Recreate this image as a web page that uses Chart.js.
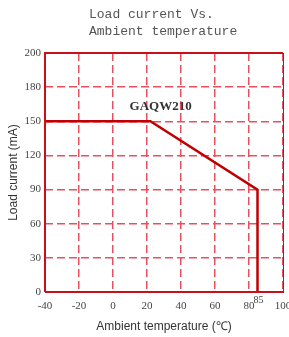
<!DOCTYPE html>
<html>
<head>
<meta charset="utf-8">
<script src="https://cdn.jsdelivr.net/npm/chart.js@4.4.0/dist/chart.umd.min.js"></script>
<style>
  html, body { margin: 0; padding: 0; background: #fff; }
  #wrap { width: 289px; height: 337px; }
</style>
</head>
<body>
<div id="wrap"><canvas id="deratingChart" width="289" height="337"></canvas></div>
<script>
// derating curve (temperature in C, current in mA)
const tempPoints = [-40, 22, 85, 85];
const currentPoints = [150, 150, 90, 0];

const titleLines = ['Load current Vs.', 'Ambient temperature'];
const partName = 'GAQW210';
const partLabelAt = { x: 28, y: 163 };
const extraXTicks = [85];

// y labels are evenly spaced, the last step (180 -> 200) takes a full slot
const yTickValues = [0, 30, 60, 90, 120, 150, 180, 210];
const yTickLabels = ['0', '30', '60', '90', '120', '150', '180', '200'];

const red = '#c8101a';
const gridRed = '#e8505f';

//Frame, title and annotations
const extrasPlugin = {
    id: 'extras',
    afterDraw(chart) {
        const c = chart.ctx;
        const a = chart.chartArea;
        const xs = chart.scales.x;
        const ys = chart.scales.y;
        c.save();
        // frame
        c.strokeStyle = red;
        c.lineWidth = 2;
        c.beginPath();
        c.moveTo(a.left, a.bottom);
        c.lineTo(a.left, a.top);
        c.lineTo(a.right, a.top);
        c.stroke();
        c.lineWidth = 1;
        c.beginPath();
        c.moveTo(a.right + 0.5, a.top);
        c.lineTo(a.right + 0.5, a.bottom);
        c.stroke();
        c.lineWidth = 2;
        c.beginPath();
        c.moveTo(a.left, a.bottom);
        c.lineTo(a.right + 1, a.bottom);
        c.stroke();

        // title
        c.fillStyle = '#555';
        c.font = '13px "Liberation Mono", monospace';
        c.textAlign = 'left';
        c.textBaseline = 'middle';
        titleLines.forEach((t, i) => c.fillText(t, 89, 15 + i * 17));

        // part name
        c.fillStyle = '#333';
        c.font = 'bold 13px "Liberation Serif", serif';
        c.textAlign = 'center';
        c.fillText(partName, xs.getPixelForValue(partLabelAt.x), ys.getPixelForValue(partLabelAt.y));

        // small 85 label
        c.fillStyle = '#444';
        c.font = '10px "Liberation Serif", serif';
        extraXTicks.forEach(v => c.fillText(String(v), xs.getPixelForValue(v) + 1, a.bottom + 8));
        c.restore();
    }
};

const ctx = document.getElementById('deratingChart').getContext('2d');
const chart = new Chart(ctx, {
    type: 'scatter',
    data: {
        datasets: [{
            label: partName,
            data: tempPoints.map((t, i) => ({ x: t, y: currentPoints[i] })),
            showLine: true,
            borderColor: '#c00000',
            borderWidth: 2.5,
            pointRadius: 0,
            fill: false
        }]
    },
    options: {
        responsive: false,
        animation: false,
        layout: { padding: { top: 53, right: 6, left: 0, bottom: 0 } },
        plugins: {
            legend: { display: false },
            tooltip: { enabled: false }
        },
        scales: {
            x: {
                type: 'linear',
                min: -40,
                max: 100,
                afterFit(scale) {
                    scale.height = 45;
                    scale.paddingLeft = 0;
                    scale.paddingRight = 0;
                },
                ticks: {
                    stepSize: 20,
                    padding: 8,
                    color: '#444',
                    font: { family: '"Liberation Serif", serif', size: 11 }
                },
                grid: {
                    color: gridRed,
                    lineWidth: 1.5,
                    drawTicks: false
                },
                border: { display: false, dash: [8, 4] },
                title: {
                    display: true,
                    text: 'Ambient temperature (℃)',
                    color: '#333',
                    padding: { top: 0, bottom: 3 },
                    font: { family: '"Liberation Sans", Arial, sans-serif', size: 12 }
                }
            },
            y: {
                type: 'linear',
                min: 0,
                max: 210,
                afterFit(scale) {
                    scale.width = 45;
                },
                afterBuildTicks(scale) {
                    scale.ticks = yTickValues.map(v => ({ value: v }));
                },
                ticks: {
                    padding: 4,
                    color: '#444',
                    font: { family: '"Liberation Serif", serif', size: 11 },
                    callback: (v) => yTickLabels[yTickValues.indexOf(v)]
                },
                grid: {
                    color: gridRed,
                    lineWidth: 1.5,
                    drawTicks: false
                },
                border: { display: false, dash: [8, 4] },
                title: {
                    display: true,
                    text: 'Load current (mA)',
                    color: '#333',
                    padding: { top: 6, bottom: 0 },
                    font: { family: '"Liberation Sans", Arial, sans-serif', size: 12 }
                }
            }
        }
    },
    plugins: [extrasPlugin]
});
</script>
</body>
</html>
